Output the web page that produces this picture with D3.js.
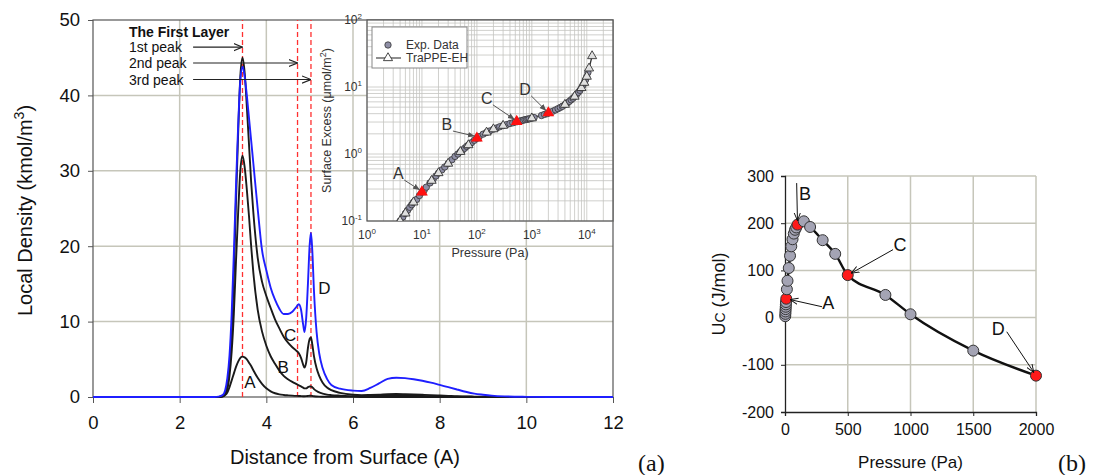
<!DOCTYPE html>
<html><head><meta charset="utf-8">
<script src="https://cdn.jsdelivr.net/npm/d3@7"></script>
<style>body{margin:0;background:#fff}svg{display:block;font-family:Arial,"Liberation Sans",sans-serif}</style>
</head><body><svg id="c" width="1098" height="475"></svg>
<script>
// ---------- (a) local density profiles ----------
const distX = [0,2.8,2.9,3.0,3.05,3.1,3.15,3.2,3.25,3.3,3.35,3.4,3.45,3.5,3.55,3.6,3.65,3.7,3.8,3.9,4.0,4.1,4.2,4.3,4.4,4.5,4.6,4.7,4.75,4.8,4.85,4.88,4.92,4.96,5.0,5.03,5.06,5.1,5.16,5.22,5.3,5.4,5.5,5.7,6.0,6.2,6.4,6.6,6.8,7.0,7.2,7.4,7.6,7.8,8.0,8.2,8.4,8.6,8.8,9.0,9.2,9.5,10.0,10.5,12.0];
const densD = [0,0,0.05,0.3,0.9,2.5,5.5,11,19,28,36,42,43.8,42.5,40,37,34,31,25,19.5,16.8,14.5,12.9,11.7,11.0,11.0,11.3,12.0,12.3,11.6,9.6,8.6,10.5,15.0,20.2,21.8,19.5,14.0,8.6,5.8,3.8,2.4,1.6,1.1,0.85,0.8,1.2,1.8,2.4,2.55,2.5,2.35,2.15,1.9,1.6,1.3,1.0,0.7,0.45,0.3,0.18,0.08,0.02,0,0];
const densC = [0,0,0,0.15,0.5,1.5,4,8.5,16,26,35,42.5,45,43,38.5,33.5,28.5,24.5,18.5,15.3,13.4,11.8,10.3,9.1,8.0,7.2,6.6,6.1,5.8,5.2,4.3,3.9,4.6,6.5,7.7,7.9,7.0,5.4,3.8,2.8,1.9,1.25,0.9,0.55,0.3,0.25,0.28,0.32,0.38,0.4,0.38,0.35,0.3,0.25,0.2,0.15,0.1,0.08,0.05,0.03,0.02,0.01,0,0,0];
const densB = [0,0,0,0.1,0.35,1,2.8,6,11,18,24.5,30,32,30.5,27.5,24,20,16.5,11.6,8.7,6.8,5.4,4.4,3.5,2.8,2.35,2.0,1.7,1.55,1.4,1.25,1.15,1.15,1.3,1.4,1.4,1.3,1.05,0.8,0.6,0.45,0.32,0.25,0.18,0.12,0.12,0.14,0.16,0.18,0.18,0.17,0.15,0.13,0.1,0.08,0.06,0.04,0.03,0.02,0.01,0,0,0,0,0];
const densA = [0,0,0,0.08,0.25,0.6,1.3,2.2,3.1,4.0,4.7,5.2,5.35,5.25,5.0,4.55,4.1,3.55,2.55,1.75,1.15,0.75,0.5,0.35,0.27,0.22,0.18,0.15,0.14,0.12,0.1,0.1,0.11,0.14,0.16,0.16,0.14,0.1,0.07,0.05,0.04,0.03,0.02,0.02,0.01,0.01,0.01,0.01,0.01,0.01,0.01,0.01,0,0,0,0,0,0,0,0,0,0,0,0,0];
const distTicks = [0,2,4,6,8,10,12];
const densTicks = [0,10,20,30,40,50];
const curveLabels = ["A","B","C","D"];
const curveLabelX = [3.62,4.39,4.55,5.34];
const curveLabelY = [2.0,4.0,8.2,14.4];
const peakX = [3.45,4.72,5.03];
const peakNames = ["1st peak","2nd peak","3rd peak"];
const peakTextY = [46.4,44.3,42.1];

// ---------- inset: surface excess isotherm ----------
const expP = [4,4.5,5,5.5,6,6.5,7,8,9,10,11,12,14,16,18,20,23,26,30,35,40,45,50,55,60,65,70,75,80,90,100,110,130,150,170,200,230,260,300,350,400,450,500,550,600,650,700,750,800,850,900,1000,1100,1500,1700,1900,2100,2400,2700,3000,3300,3600,4000,4400,4800,5200,5600,6000,6500,7000,7500,8000,8500,9000,9500,10000,10500];
const expE = [0.10,0.115,0.13,0.145,0.16,0.175,0.19,0.21,0.24,0.27,0.29,0.32,0.37,0.42,0.47,0.52,0.58,0.64,0.72,0.82,0.92,1.0,1.08,1.15,1.22,1.3,1.36,1.42,1.48,1.6,1.72,1.82,1.98,2.1,2.2,2.35,2.45,2.55,2.65,2.75,2.85,2.92,3.0,3.05,3.1,3.15,3.2,3.25,3.28,3.32,3.35,3.42,3.5,3.75,3.9,4.0,4.15,4.35,4.55,4.75,4.95,5.15,5.45,5.75,6.1,6.45,6.8,7.2,7.7,8.3,8.9,9.7,10.6,11.6,12.8,14.3,16.5];
const simP = [3,4,5,7,10,15,20,30,50,70,100,150,200,300,530,1000,2000,4000,6000,8000,9000,10000,11000,12500];
const simE = [0.075,0.1,0.13,0.19,0.27,0.4,0.52,0.72,1.08,1.36,1.72,2.1,2.35,2.65,3.05,3.42,4.1,5.45,7.2,9.7,11.6,14.3,19,29];
const markP = [10,100,530,2000];
const markE = [0.27,1.72,3.05,4.1];
const markLabelP = [3.7,28.5,152,755];
const markLabelE = [0.52,2.8,6.9,9.4];
const insetXExp = [0,1,2,3,4];
const insetYExp = [-1,0,1,2];

// ---------- (b) Uc vs pressure ----------
const ucP = [2,3,4,5,6,7,8,10,15,20,30,40,50,60,70,80,90,100,150,200,300,400,500,800,1000,1500,2000];
const ucV = [3,8,13,18,23,28,33,40,60,78,105,131,151,166,178,186,191,197,204,192,164,135,90,48,7,-70,-123];
const ucMarked = [10,100,500,2000];
const ucLabels = ["A","B","C","D"];
const ucLabelP = [345,159,916,1700];
const ucLabelV = [32,264,156,-22];
const ucArrowFromP = [295,93,861,1767];
const ucArrowFromV = [23,285,144,-30];
const ucXTicks = [0,500,1000,1500,2000];
const ucYTicks = [-200,-100,0,100,200,300];

const svg = d3.select("#c");
const defs = svg.append("defs");
defs.append("marker").attr("id","openArrow").attr("viewBox","0 0 10 10").attr("refX",10).attr("refY",5)
  .attr("markerWidth",9).attr("markerHeight",9).attr("markerUnits","userSpaceOnUse").attr("orient","auto")
  .append("path").attr("d","M0,1 L10,5 L0,9").attr("fill","none").attr("stroke","#222").attr("stroke-width",1.3);
defs.append("marker").attr("id","grayArrow").attr("viewBox","0 0 10 10").attr("refX",10).attr("refY",5)
  .attr("markerWidth",7).attr("markerHeight",7).attr("markerUnits","userSpaceOnUse").attr("orient","auto")
  .append("path").attr("d","M0,1 L10,5 L0,9 Z").attr("fill","#555");
defs.append("marker").attr("id","blackArrow").attr("viewBox","0 0 10 10").attr("refX",10).attr("refY",5)
  .attr("markerWidth",8).attr("markerHeight",8).attr("markerUnits","userSpaceOnUse").attr("orient","auto")
  .append("path").attr("d","M0,1 L10,5 L0,9").attr("fill","none").attr("stroke","#111").attr("stroke-width",1.2);

const gridCol = "#c6c6ba";
const plain = d => String(d).replace("\u2212","-");

// ===== chart (a) =====
const x = d3.scaleLinear().domain([0,12]).range([93,613]);
const y = d3.scaleLinear().domain([0,50]).range([397,20]);
const ga = svg.append("g");
ga.selectAll("line.vg").data(distTicks.slice(1,-1)).join("line")
  .attr("x1",d=>x(d)).attr("x2",d=>x(d)).attr("y1",y(0)).attr("y2",y(50)).attr("stroke",gridCol).attr("stroke-width",1.5);
ga.selectAll("line.hg").data(densTicks.slice(1,-1)).join("line")
  .attr("x1",x(0)).attr("x2",x(12)).attr("y1",d=>y(d)).attr("y2",d=>y(d)).attr("stroke",gridCol).attr("stroke-width",1.5);
ga.append("rect").attr("x",x(0)).attr("y",y(50)).attr("width",x(12)-x(0)).attr("height",y(0)-y(50))
  .attr("fill","none").attr("stroke","#555").attr("stroke-width",1.2);
const axB = ga.append("g").attr("transform",`translate(0,${y(0)})`)
  .call(d3.axisBottom(x).tickValues(distTicks).tickSize(6).tickPadding(13).tickFormat(plain));
const axL = ga.append("g").attr("transform",`translate(${x(0)},0)`)
  .call(d3.axisLeft(y).tickValues(densTicks).tickSize(5).tickPadding(8).tickFormat(plain));
[axB,axL].forEach(a=>{a.select(".domain").remove();a.selectAll("line").attr("stroke","#555");
  a.selectAll("text").attr("font-size",18.5).attr("fill","#111").attr("font-family","Arial, Liberation Sans, sans-serif");});
ga.append("text").attr("x",345).attr("y",464).attr("text-anchor","middle").attr("font-size",20).attr("fill","#111")
  .text("Distance from Surface (A)");
const yl = ga.append("text").attr("transform",`translate(32,${(y(0)+y(50))/2+2}) rotate(-90)`).attr("text-anchor","middle")
  .attr("font-size",20).attr("fill","#111");
yl.append("tspan").text("Local Density (kmol/m");
yl.append("tspan").attr("font-size",14).attr("dy",-8).text("3");
yl.append("tspan").attr("dy",8).text(")");

ga.selectAll("line.pk").data(peakX).join("line")
  .attr("x1",d=>x(d)).attr("x2",d=>x(d)).attr("y1",y(0)).attr("y2",y(50))
  .attr("stroke","#ff3030").attr("stroke-width",1.3).attr("stroke-dasharray","5,3");

const line = d3.line().x((d,i)=>x(distX[i])).y(d=>y(d)).curve(d3.curveMonotoneX);
[densA,densB,densC].forEach(s=>{
  ga.append("path").datum(s).attr("d",line).attr("fill","none").attr("stroke","#1a1a1a").attr("stroke-width",1.9);
});
ga.append("path").datum(densD).attr("d",line).attr("fill","none").attr("stroke","#1f1fff").attr("stroke-width",1.9);

ga.selectAll("text.cl").data(curveLabels).join("text")
  .attr("x",(d,i)=>x(curveLabelX[i])).attr("y",(d,i)=>y(curveLabelY[i])+6).attr("text-anchor","middle")
  .attr("font-size",17).attr("fill","#111").text(d=>d);

ga.append("text").attr("x",x(0.83)).attr("y",y(48.4)+5).attr("font-size",14).attr("font-weight","bold").attr("fill","#111").text("The First Layer");
ga.selectAll("text.pn").data(peakNames).join("text")
  .attr("x",x(0.83)).attr("y",(d,i)=>y(peakTextY[i])+5).attr("font-size",14).attr("fill","#111").text(d=>d);
ga.selectAll("line.pa").data(peakX).join("line")
  .attr("x1",x(2.31)).attr("x2",d=>x(d)).attr("y1",(d,i)=>y(peakTextY[i])).attr("y2",(d,i)=>y(peakTextY[i]))
  .attr("stroke","#222").attr("stroke-width",1.1).attr("marker-end","url(#openArrow)");

// ===== inset =====
const ix = d3.scaleLog().domain([1,30000]).range([367,613]);
const iy = d3.scaleLog().domain([0.1,100]).range([221,20]);
const gi = svg.append("g");
gi.append("rect").attr("x",ix(1)).attr("y",iy(100)).attr("width",ix(30000)-ix(1)).attr("height",iy(0.1)-iy(100)).attr("fill","#fff");
const xMinor=[], yMinor=[];
for(let d=0; d<=4; d++) for(let k=1;k<=9;k++){const v=k*Math.pow(10,d); if(v<=30000) xMinor.push(v);}
for(let d=-1; d<=1; d++) for(let k=1;k<=9;k++){yMinor.push(k*Math.pow(10,d));}
gi.selectAll("line.ivx").data(xMinor).join("line").attr("x1",d=>ix(d)).attr("x2",d=>ix(d)).attr("y1",iy(0.1)).attr("y2",iy(100))
  .attr("stroke","#c4c4c0").attr("stroke-width",0.8);
gi.selectAll("line.ivy").data(yMinor).join("line").attr("y1",d=>iy(d)).attr("y2",d=>iy(d)).attr("x1",ix(1)).attr("x2",ix(30000))
  .attr("stroke","#c4c4c0").attr("stroke-width",0.8);
gi.append("rect").attr("x",ix(1)).attr("y",iy(100)).attr("width",ix(30000)-ix(1)).attr("height",iy(0.1)-iy(100))
  .attr("fill","none").attr("stroke","#555").attr("stroke-width",1.2);
const ixl = gi.selectAll("text.ixl").data(insetXExp).join("text").attr("x",d=>ix(Math.pow(10,d))).attr("y",239)
  .attr("text-anchor","middle").attr("font-size",12).attr("fill","#333");
ixl.append("tspan").text("10"); ixl.append("tspan").attr("font-size",8).attr("dy",-5).text(d=>d);
const iyl = gi.selectAll("text.iyl").data(insetYExp).join("text").attr("x",362).attr("y",d=>iy(Math.pow(10,d))+4)
  .attr("text-anchor","end").attr("font-size",12).attr("fill","#333");
iyl.append("tspan").text("10"); iyl.append("tspan").attr("font-size",8).attr("dy",-5).text(d=>d);
gi.append("text").attr("x",(ix(1)+ix(30000))/2).attr("y",257).attr("text-anchor","middle").attr("font-size",12.5).attr("fill","#333").text("Pressure (Pa)");
const iyt = gi.append("text").attr("transform",`translate(331,${(iy(0.1)+iy(100))/2}) rotate(-90)`).attr("text-anchor","middle")
  .attr("font-size",12.5).attr("fill","#333");
iyt.append("tspan").text("Surface Excess (\u03bcmol/m"); iyt.append("tspan").attr("font-size",9).attr("dy",-5).text("2");
iyt.append("tspan").attr("dy",5).text(")");

defs.append("clipPath").attr("id","iclip").append("rect")
  .attr("x",ix(1)).attr("y",iy(100)).attr("width",ix(30000)-ix(1)).attr("height",iy(0.1)-iy(100));
const gic = gi.append("g").attr("clip-path","url(#iclip)");
const tri = d3.symbol().type(d3.symbolTriangle).size(36);
gic.append("path").datum(simP).attr("d",d3.line().x(d=>ix(d)).y((d,i)=>iy(simE[i]))).attr("fill","none").attr("stroke","#333").attr("stroke-width",1.3);
gic.selectAll("circle.ex").data(expP).join("circle").attr("cx",d=>ix(d)).attr("cy",(d,i)=>iy(expE[i])).attr("r",3.2)
  .attr("fill","#8f8fa6").attr("stroke","#333").attr("stroke-width",0.8);
gic.selectAll("path.sm").data(simP).join("path").attr("d",tri).attr("transform",(d,i)=>`translate(${ix(d)},${iy(simE[i])})`)
  .attr("fill","#e0e0e0").attr("stroke","#333").attr("stroke-width",0.9);
gic.selectAll("path.rm").data(markP).join("path").attr("d",d3.symbol().type(d3.symbolTriangle).size(60))
  .attr("transform",(d,i)=>`translate(${ix(d)},${iy(markE[i])})`).attr("fill","#ff1010");
gi.selectAll("text.ml").data(curveLabels).join("text").attr("x",(d,i)=>ix(markLabelP[i])).attr("y",(d,i)=>iy(markLabelE[i])+6)
  .attr("text-anchor","middle").attr("font-size",16).attr("fill","#333").text(d=>d);
gi.selectAll("line.ma").data(markP).join("line")
  .attr("x1",(d,i)=>ix(markLabelP[i])+6).attr("y1",(d,i)=>iy(markLabelE[i])+7)
  .attr("x2",(d,i)=>ix(d)-2).attr("y2",(d,i)=>iy(markE[i])-2)
  .attr("stroke","#555").attr("stroke-width",1).attr("marker-end","url(#grayArrow)");
const lg = gi.append("g");
lg.append("rect").attr("x",372).attr("y",27).attr("width",95).attr("height",41).attr("fill","#fff").attr("stroke","#888").attr("stroke-width",1);
lg.append("circle").attr("cx",388).attr("cy",45).attr("r",3.2).attr("fill","#8f8fa6").attr("stroke","#333").attr("stroke-width",0.8);
lg.append("line").attr("x1",376).attr("x2",401).attr("y1",58).attr("y2",58).attr("stroke","#333").attr("stroke-width",1.1);
lg.append("path").attr("d",tri).attr("transform","translate(388,58)").attr("fill","#fff").attr("stroke","#333").attr("stroke-width",0.9);
lg.append("text").attr("x",406).attr("y",49).attr("font-size",12).attr("fill","#333").text("Exp. Data");
lg.append("text").attr("x",406).attr("y",62).attr("font-size",12).attr("fill","#333").text("TraPPE-EH");

svg.append("text").attr("x",638).attr("y",471).attr("font-family","Times New Roman, Liberation Serif, serif").attr("font-size",24).attr("fill","#111").text("(a)");

// ===== chart (b) =====
const bx = d3.scaleLinear().domain([0,2000]).range([785,1036]);
const by = d3.scaleLinear().domain([-200,300]).range([412,176]);
const gb = svg.append("g");
gb.selectAll("line.bvg").data(ucXTicks.slice(1)).join("line").attr("x1",d=>bx(d)).attr("x2",d=>bx(d)).attr("y1",by(-200)).attr("y2",by(300))
  .attr("stroke",gridCol).attr("stroke-width",1.5);
gb.selectAll("line.bhg").data(ucYTicks.slice(1)).join("line").attr("y1",d=>by(d)).attr("y2",d=>by(d)).attr("x1",bx(0)).attr("x2",bx(2000))
  .attr("stroke",gridCol).attr("stroke-width",1.5);
const bB = gb.append("g").attr("transform",`translate(0,${by(-200)})`).call(d3.axisBottom(bx).tickValues(ucXTicks).tickSize(4).tickPadding(8).tickFormat(plain));
const bL = gb.append("g").attr("transform",`translate(${bx(0)},0)`).call(d3.axisLeft(by).tickValues(ucYTicks).tickSize(4).tickPadding(7).tickFormat(plain));
[bB,bL].forEach(a=>{a.select(".domain").attr("stroke","#222").attr("stroke-width",1.3);a.selectAll("line").attr("stroke","#222");
  a.selectAll("text").attr("font-size",16).attr("fill","#111").attr("font-family","Arial, Liberation Sans, sans-serif");});
gb.append("text").attr("x",(bx(0)+bx(2000))/2).attr("y",468).attr("text-anchor","middle").attr("font-size",17).attr("fill","#111").text("Pressure (Pa)");
const byl = gb.append("text").attr("transform",`translate(725,${(by(-200)+by(300))/2}) rotate(-90)`).attr("text-anchor","middle").attr("font-size",18).attr("fill","#111");
byl.append("tspan").text("U"); byl.append("tspan").attr("font-size",14).text("C"); byl.append("tspan").text(" (J/mol)");
gb.append("path").datum(ucP).attr("d",d3.line().x(d=>bx(d)).y((d,i)=>by(ucV[i])).curve(d3.curveMonotoneX))
  .attr("fill","none").attr("stroke","#111").attr("stroke-width",2.4);
gb.selectAll("circle.uc").data(ucP).join("circle").attr("cx",d=>bx(d)).attr("cy",(d,i)=>by(ucV[i])).attr("r",5.5)
  .attr("fill",d=>ucMarked.includes(d)?"#ff1a1a":"#a4a4b4").attr("stroke","#333").attr("stroke-width",1);
gb.selectAll("text.ul").data(ucLabels).join("text").attr("x",(d,i)=>bx(ucLabelP[i])).attr("y",(d,i)=>by(ucLabelV[i])+7)
  .attr("text-anchor","middle").attr("font-size",18).attr("fill","#111").text(d=>d);
const arrEnd = (d,i,k) => {const j=ucP.indexOf(d);const dx=bx(ucArrowFromP[i])-bx(d),dy=by(ucArrowFromV[i])-by(ucV[j]);const L=Math.hypot(dx,dy);
  return k==="x" ? bx(d)+dx/L*4 : by(ucV[j])+dy/L*4;};
gb.selectAll("line.ua").data(ucMarked).join("line")
  .attr("x1",(d,i)=>bx(ucArrowFromP[i])).attr("y1",(d,i)=>by(ucArrowFromV[i]))
  .attr("x2",(d,i)=>arrEnd(d,i,"x")).attr("y2",(d,i)=>arrEnd(d,i,"y"))
  .attr("stroke","#111").attr("stroke-width",1).attr("marker-end","url(#blackArrow)");
svg.append("text").attr("x",1058).attr("y",471).attr("font-family","Times New Roman, Liberation Serif, serif").attr("font-size",24).attr("fill","#111").text("(b)");
</script></body></html>
